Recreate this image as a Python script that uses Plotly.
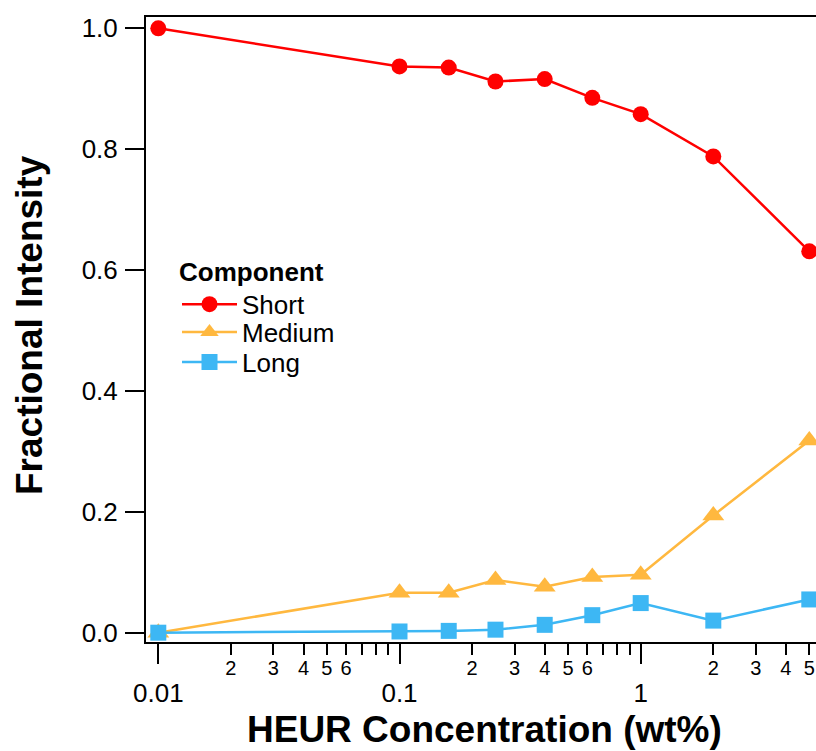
import plotly.graph_objects as go

# Data
conc = [0.01, 0.1, 0.16, 0.25, 0.4, 0.63, 1.0, 2.0, 5.0]
short = [1.000, 0.937, 0.935, 0.912, 0.916, 0.885, 0.858, 0.788, 0.631]
medium = [0.000, 0.066, 0.066, 0.087, 0.076, 0.092, 0.096, 0.194, 0.318]
long_ = [0.000, 0.002, 0.003, 0.005, 0.013, 0.029, 0.049, 0.020, 0.055]

major_vals = [0.01, 0.1, 1]
major_text = ["0.01", "0.1", "1"]
minor_label_vals = [0.02, 0.03, 0.04, 0.05, 0.06, 0.2, 0.3, 0.4, 0.5, 0.6, 2, 3, 4, 5]
minor_label_text = ["2", "3", "4", "5", "6", "2", "3", "4", "5", "6", "2", "3", "4", "5"]
minor_tick_vals = [m * d for d in (0.01, 0.1, 1) for m in range(2, 10)]
y_ticks = [0.0, 0.2, 0.4, 0.6, 0.8, 1.0]

RED = "#FF0000"
ORANGE = "#FFB83F"
BLUE = "#3DB7F4"
FONT = "Liberation Sans, Arial, sans-serif"

W, H = 816, 751
L, T, R, B = 146, 17, 0, 109
PW, PH = W - L - R, H - T - B

xr = [-2.051, 0.7268]
yr = [-0.0154, 1.0187]


def px(x):
    return (x - L) / PW


def py(y):
    return (H - B - y) / PH


fig = go.Figure()
fig.add_trace(go.Scatter(x=conc, y=short, name="Short", mode="lines+markers",
                         line=dict(color=RED, width=2.5), legend="legend",
                         marker=dict(symbol="circle", size=16, color=RED)))
fig.add_trace(go.Scatter(x=conc, y=medium, name="Medium", mode="lines+markers",
                         line=dict(color=ORANGE, width=2.5), legend="legend2",
                         marker=dict(symbol="triangle-up", size=19, color=ORANGE)))
fig.add_trace(go.Scatter(x=conc, y=long_, name="Long", mode="lines+markers",
                         line=dict(color=BLUE, width=2.5), legend="legend3",
                         marker=dict(symbol="square", size=16, color=BLUE)))
# invisible trace for the minor-label overlay axis
fig.add_trace(go.Scatter(x=[conc[0]], y=[None], xaxis="x2", showlegend=False,
                         hoverinfo="skip", mode="markers", marker=dict(opacity=0)))

leg_common = dict(xanchor="left", bgcolor="rgba(0,0,0,0)",
                  font=dict(family=FONT, size=26), itemwidth=55)

fig.update_layout(
    width=W, height=H,
    margin=dict(l=L, r=R, t=T, b=B, pad=0),
    paper_bgcolor="white", plot_bgcolor="white",
    font=dict(family=FONT, color="black", size=26),
    showlegend=True,
    legend=dict(
        title=dict(text="Component", font=dict(family=FONT, size=26, weight="bold")),
        x=px(177), y=py(247), yanchor="top", **leg_common,
    ),
    legend2=dict(x=px(177), y=py(332), yanchor="middle", **leg_common),
    legend3=dict(x=px(177), y=py(362), yanchor="middle", **leg_common),
    xaxis=dict(
        type="log", range=xr, showgrid=False, zeroline=False,
        showline=True, linecolor="black", linewidth=2, mirror=True,
        ticks="outside", ticklen=20, tickwidth=2, tickcolor="black",
        tickmode="array", tickvals=major_vals, ticktext=major_text,
        tickfont=dict(family=FONT, size=26),
        ticklabelstandoff=7,
        minor=dict(tickmode="array", tickvals=minor_tick_vals, ticks="outside",
                   ticklen=11, tickwidth=2, tickcolor="black", showgrid=False),
    ),
    xaxis2=dict(
        type="log", range=xr, overlaying="x", side="bottom", anchor="y",
        showgrid=False, zeroline=False, showline=False, ticks="",
        tickmode="array", tickvals=minor_label_vals, ticktext=minor_label_text,
        tickfont=dict(family=FONT, size=20), ticklabelstandoff=12,
    ),
    yaxis=dict(
        range=yr, showgrid=False, zeroline=False,
        showline=True, linecolor="black", linewidth=2, mirror=False,
        ticks="outside", ticklen=19, tickwidth=2, tickcolor="black",
        tickmode="array", tickvals=y_ticks, ticktext=[f"{v:.1f}" for v in y_ticks],
        tickfont=dict(family=FONT, size=26), ticklabelstandoff=2,
    ),
    annotations=[
        dict(text="HEUR Concentration (wt%)", xref="paper", yref="paper",
             x=px(484), y=py(729),
             xanchor="center", yanchor="middle", showarrow=False,
             font=dict(family=FONT, size=37, weight="bold")),
        dict(text="Fractional Intensity", xref="paper", yref="paper",
             x=px(29), y=py(325),
             xanchor="center", yanchor="middle", showarrow=False, textangle=-90,
             font=dict(family=FONT, size=37, weight="bold")),
    ],
)

fig.write_html("out.html")
